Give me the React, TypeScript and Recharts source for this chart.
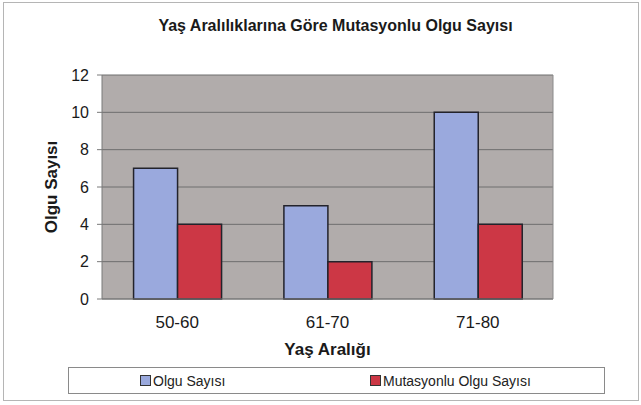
import React from 'react'
import { BarChart, Bar, XAxis, YAxis, CartesianGrid, Legend } from 'recharts'

const ageRanges = ['50-60', '61-70', '71-80']
const caseCounts = [7, 5, 10]
const mutationCounts = [4, 2, 4]
const yTicks = [0, 2, 4, 6, 8, 10, 12]

const data = ageRanges.map((range, i) => ({
  range,
  olgu: caseCounts[i],
  mutasyonlu: mutationCounts[i],
}))

const FONT = '"Liberation Sans", Arial, sans-serif'

const legendItems = [
  { label: 'Olgu Sayısı', color: '#9aa9dd', left: 71 },
  { label: 'Mutasyonlu Olgu Sayısı', color: '#cc3745', left: 301 },
]

function renderLegend() {
  return (
    <div
      style={{
        position: 'relative',
        width: 535,
        height: 25,
        border: '1px solid #8a8a8a',
        fontFamily: FONT,
        fontSize: 14,
        color: '#222',
        background: '#fff',
      }}
    >
      {legendItems.map((item) => (
        <div
          key={item.label}
          style={{
            position: 'absolute',
            left: item.left,
            top: 0,
            height: 25,
            display: 'flex',
            alignItems: 'center',
          }}
        >
          <span
            style={{
              display: 'inline-block',
              width: 9,
              height: 9,
              background: item.color,
              border: '1px solid #333',
              marginRight: 2,
            }}
          />
          <span>{item.label}</span>
        </div>
      ))}
    </div>
  )
}

export default function App() {
  return (
    <div
      style={{
        position: 'absolute',
        left: 0,
        top: 0,
        width: 641,
        height: 405,
        background: '#fff',
        fontFamily: FONT,
      }}
    >
      <div
        style={{
          position: 'absolute',
          left: 3,
          top: 2,
          width: 634,
          height: 397,
          border: '1px solid #b5b5b5',
        }}
      />
      <div
        style={{
          position: 'absolute',
          left: 15,
          top: 17,
          width: 641,
          textAlign: 'center',
          fontWeight: 'bold',
          fontSize: 16,
          color: '#1a1a1a',
        }}
      >
        Yaş Aralılıklarına Göre Mutasyonlu Olgu Sayısı
      </div>
      <div style={{ position: 'absolute', left: 0, top: 0 }}>
        <BarChart
          width={641}
          height={405}
          data={data}
          margin={{ top: 75, right: 87, left: 0, bottom: 11 }}
          barGap={0}
          barCategoryGap="21%"
        >
          <CartesianGrid
            vertical={false}
            stroke="#6e6e6e"
            fill="#b1acab"
            yAxisId="left"
          />
          <XAxis
            dataKey="range"
            height={68}
            tickLine={false}
            axisLine={{ stroke: '#7a7a7a' }}
            tickMargin={11}
            tick={{ fontSize: 17, fill: '#1a1a1a', fontFamily: FONT }}
            label={{
              value: 'Yaş Aralığı',
              position: 'insideBottom',
              offset: 12,
              style: { fontSize: 17, fontWeight: 'bold', fill: '#1a1a1a', fontFamily: FONT },
            }}
          />
          <YAxis
            yAxisId="left"
            width={102}
            domain={[0, 12]}
            ticks={yTicks}
            interval={0}
            tickSize={5}
            tickLine={{ stroke: '#7a7a7a' }}
            axisLine={{ stroke: '#7a7a7a' }}
            tickMargin={8}
            tick={{ fontSize: 16, fill: '#1a1a1a', fontFamily: FONT }}
            label={{
              value: 'Olgu Sayısı',
              angle: -90,
              position: 'insideLeft',
              offset: 51,
              style: { textAnchor: 'middle', fontSize: 17, fontWeight: 'bold', fill: '#1a1a1a', fontFamily: FONT },
            }}
          />
          <YAxis
            yAxisId="right"
            orientation="right"
            width={1}
            domain={[0, 12]}
            tick={false}
            tickLine={false}
            axisLine={{ stroke: '#8a8a8a' }}
          />
          <Legend
            verticalAlign="bottom"
            content={renderLegend}
            wrapperStyle={{ left: 68, width: 537, bottom: 11 }}
          />
          <Bar
            yAxisId="left"
            dataKey="olgu"
            name="Olgu Sayısı"
            fill="#9aa9dd"
            stroke="#23232b"
            strokeWidth={1.5}
            isAnimationActive={false}
          />
          <Bar
            yAxisId="left"
            dataKey="mutasyonlu"
            name="Mutasyonlu Olgu Sayısı"
            fill="#cc3745"
            stroke="#23232b"
            strokeWidth={1.5}
            isAnimationActive={false}
          />
        </BarChart>
      </div>
    </div>
  )
}
